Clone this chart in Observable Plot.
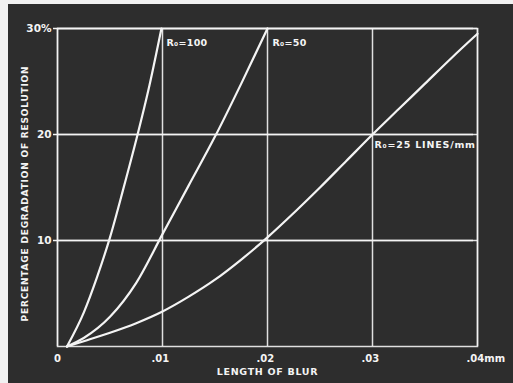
<!DOCTYPE html>
<html>
<head>
<meta charset="utf-8">
<script src="https://cdn.jsdelivr.net/npm/d3@7"></script>
<script src="https://cdn.jsdelivr.net/npm/@observablehq/plot@0.6"></script>
<style>
  html, body { margin: 0; padding: 0; background: #f1f1f1; width: 513px; height: 383px; overflow: hidden; }
  #chart { position: absolute; left: 8px; top: 4px; width: 505px; height: 379px; background: #2d2d2d; }
  #chart svg { display: block; background: #2d2d2d; }
</style>
</head>
<body>
<div id="chart"></div>
<script>
// Series: length of blur (mm) vs percentage degradation of resolution
const blur100 = [0.0009, 0.0025, 0.00375, 0.005, 0.00625, 0.0075, 0.00875, 0.0099];
const degr100 = [0, 3.2, 6.5, 10.3, 14.8, 19.5, 24.6, 30];

const blur50 = [0.0009, 0.0025, 0.005, 0.0075, 0.01, 0.0125, 0.015, 0.0175, 0.02];
const degr50 = [0, 0.8, 2.8, 6.0, 10.6, 15.2, 19.8, 24.8, 30];

const blur25 = [0.0009, 0.0025, 0.005, 0.0075, 0.01, 0.0125, 0.015, 0.0175, 0.02, 0.0225, 0.025, 0.0275, 0.03, 0.0325, 0.035, 0.0375, 0.04];
const degr25 = [0, 0.5, 1.3, 2.2, 3.3, 4.7, 6.3, 8.2, 10.3, 12.6, 15.0, 17.5, 20, 22.4, 24.8, 27.2, 29.5];

const seriesNames = ["R₀=100", "R₀=50", "R₀=25 LINES/mm"];

const xTickValues = [0, 0.01, 0.02, 0.03, 0.04];
const xTickLabels = ["0", ".01", ".02", ".03", ".04mm"];
const yTickValues = [10, 20, 30];
const yTickLabels = ["10", "20", "30%"];

const xTitle = "LENGTH OF BLUR";
const yTitle = "PERCENTAGE DEGRADATION OF RESOLUTION";

// Build table
const rows = [];
[[blur100, degr100], [blur50, degr50], [blur25, degr25]].forEach(([xs, ys], k) => {
  xs.forEach((x, i) => rows.push({series: seriesNames[k], x, y: ys[i]}));
});

// Label anchors: top end of the R0=100 and R0=50 curves, crossing of y=20 for R0=25
const labelRows = [
  {text: seriesNames[0], x: blur100[blur100.length - 1], y: degr100[degr100.length - 1]},
  {text: seriesNames[1], x: blur50[blur50.length - 1], y: degr50[degr50.length - 1]},
  {text: seriesNames[2], x: blur25[12], y: degr25[12]}
];

const xTickRows = xTickValues.map((v, i) => ({x: v, label: xTickLabels[i]}));
const yTickRows = yTickValues.map((v, i) => ({y: v, label: yTickLabels[i]}));

const font = "DejaVu Sans, sans-serif";
const white = "#f4f4f4";

const chart = Plot.plot({
  width: 505,
  height: 379,
  marginLeft: 49,
  marginRight: 36,
  marginTop: 24,
  marginBottom: 37,
  style: {background: "#2d2d2d", color: white, fontFamily: font, fontWeight: "bold", overflow: "visible"},
  x: {domain: [0, 0.04], axis: null},
  y: {domain: [0, 30], axis: null},
  marks: [
    Plot.gridX(xTickValues, {stroke: white, strokeOpacity: 0.9, strokeWidth: 1.5}),
    Plot.gridY(yTickValues, {stroke: white, strokeOpacity: 0.9, strokeWidth: 1.5}),
    Plot.frame({stroke: white, strokeOpacity: 0.9, strokeWidth: 1.5}),
    Plot.tickY(yTickRows, {y: "y", frameAnchor: "left", dx: -4, stroke: white, strokeWidth: 1.3, inset: 0}),
    Plot.text(yTickRows, {y: "y", text: "label", frameAnchor: "left", textAnchor: "end", dx: -6, fill: white, fontSize: 10.5, fontWeight: "bold"}),
    Plot.text(xTickRows.filter(d => d.x === 0), {x: "x", text: "label", frameAnchor: "bottom", dy: 12, lineAnchor: "middle", textAnchor: "middle", fill: white, fontSize: 10, fontWeight: "bold"}),
    Plot.text(xTickRows.filter(d => d.x !== 0), {x: "x", text: "label", frameAnchor: "bottom", dy: 12, dx: -11, lineAnchor: "middle", textAnchor: "start", fill: white, fontSize: 10, fontWeight: "bold"}),
    Plot.text([xTitle], {text: d => d, frameAnchor: "bottom", dy: 25, lineAnchor: "middle", textAnchor: "middle", fill: white, fontSize: 9.5, fontWeight: "bold"}),
    Plot.text([yTitle], {text: d => d, frameAnchor: "left", dx: -32, dy: 6, rotate: -90, lineAnchor: "middle", textAnchor: "middle", fill: white, fontSize: 9, fontWeight: "bold"}),
    Plot.line(rows, {x: "x", y: "y", z: "series", stroke: white, strokeWidth: 2.2, curve: "monotone-x"}),
    Plot.text(labelRows.slice(0, 2), {x: "x", y: "y", text: "text", textAnchor: "start", lineAnchor: "middle", dx: 5, dy: 14, fill: white, fontSize: 9.5, fontWeight: "bold"}),
    Plot.text(labelRows.slice(2), {x: "x", y: "y", text: "text", textAnchor: "start", lineAnchor: "middle", dx: 2, dy: 10, fill: white, fontSize: 9.5, fontWeight: "bold"})
  ]
});

// Letter spacing to mimic the wide stencil lettering
const spacing = new Map([
  [xTitle, "0.7px"],
  [yTitle, "0.8px"],
  [seriesNames[0], "0.3px"],
  [seriesNames[1], "0.3px"],
  [seriesNames[2], "0.8px"]
]);
chart.querySelectorAll("text").forEach(t => {
  const s = spacing.get(t.textContent);
  if (s) t.style.letterSpacing = s;
});
document.getElementById("chart").appendChild(chart);
</script>
</body>
</html>
